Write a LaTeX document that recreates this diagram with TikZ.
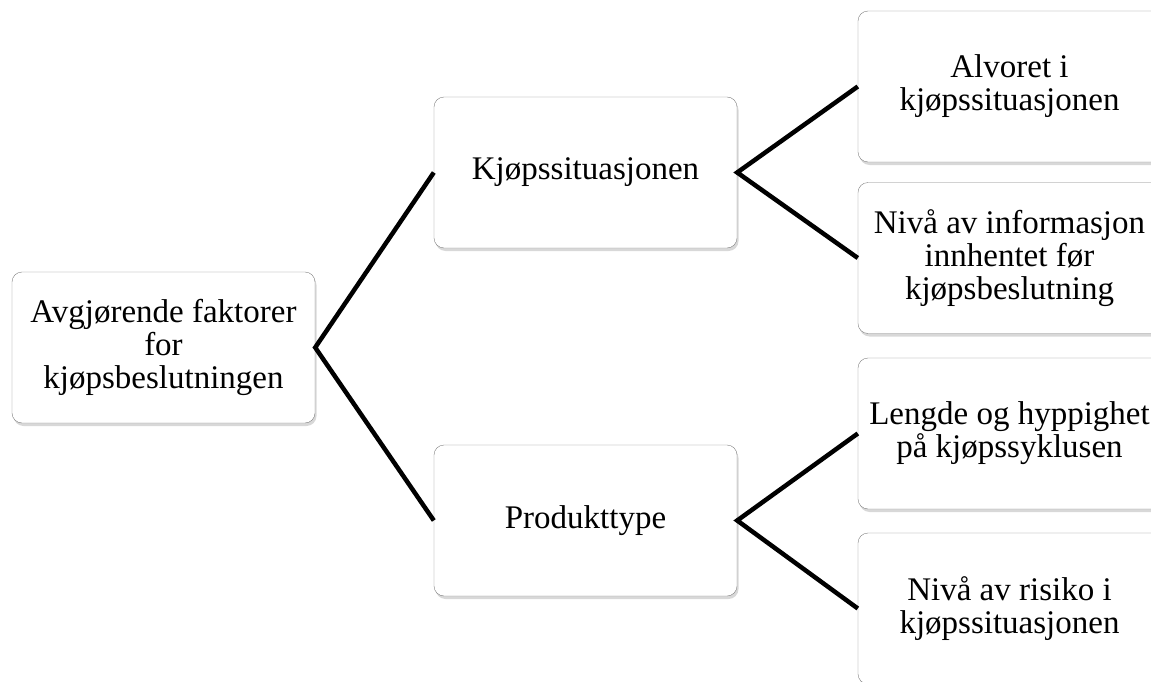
\documentclass[tikz,border=0pt]{standalone}
\usepackage{fontspec}
\setmainfont{Liberation Serif}
\usetikzlibrary{shadows}

\tikzset{
  factor/.style={draw=gray, rounded corners=10pt, fill=white,
    minimum width=303pt, minimum height=151pt, align=center,
    font=\fontsize{33}{33}\selectfont,
    drop shadow={shadow xshift=1.5pt, shadow yshift=-3pt, fill=gray!60, opacity=.5}},
  branch/.style={line width=4.5pt},
}

\begin{document}
\begin{tikzpicture}[x=1pt, y=-1pt]
  \useasboundingbox (0,0) rectangle (1151,682);

  \node[factor] (root)  at (163.5,347.5) {Avgjørende faktorer\\for\\kjøpsbeslutningen};
  \node[factor] (kjop)  at (585.5,172.5) {Kjøpssituasjonen};
  \node[factor] (prod)  at (585.5,520.5) {Produkttype};

  \node[factor] (alvor) at (1009.5,86.5)  {Alvoret i\\kjøpssituasjonen};
  \node[factor] (info)  at (1009.5,258)   {Nivå av informasjon\\innhentet før\\kjøpsbeslutning};
  \node[factor] (syklus) at (1009.5,433.5) {Lengde og hyppighet\\på kjøpssyklusen};
  \node[factor] (risiko) at (1009.5,608.5) {Nivå av risiko i\\kjøpssituasjonen};

  \draw[branch] (kjop.west) -- (root.east) -- (prod.west);
  \draw[branch] (alvor.west) -- (kjop.east) -- (info.west);
  \draw[branch] (syklus.west) -- (prod.east) -- (risiko.west);
\end{tikzpicture}
\end{document}
